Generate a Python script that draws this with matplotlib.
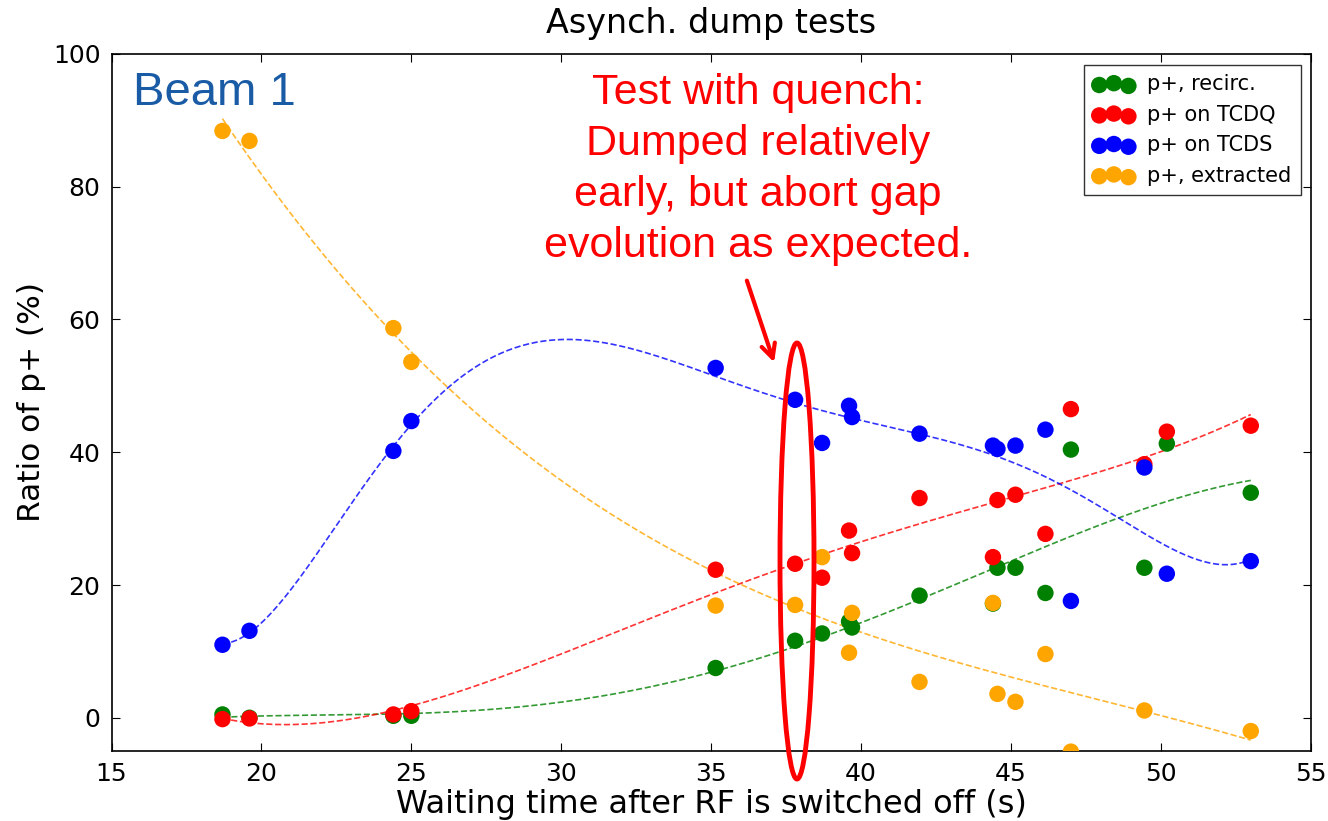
import matplotlib.pyplot as plt
import numpy as np
from matplotlib.patches import Ellipse

# waiting time after RF switch-off (s)
t = [18.7, 19.6, 24.4, 25.0, 35.15, 37.8, 38.7, 39.6, 39.7, 41.95,
     44.4, 44.55, 45.15, 46.15, 47.0, 49.45, 50.2, 53.0]

recirc = [0.5, 0.0, 0.3, 0.3, 7.5, 11.6, 12.7, 14.5, 13.6, 18.4,
          17.2, 22.6, 22.6, 18.8, 40.4, 22.6, 41.3, 33.9]
tcdq = [-0.2, -0.1, 0.5, 1.0, 22.3, 23.2, 21.1, 28.2, 24.8, 33.1,
        24.2, 32.8, 33.6, 27.7, 46.5, 38.2, 43.1, 44.0]
tcds = [11.0, 13.1, 40.2, 44.7, 52.7, 47.9, 41.4, 47.0, 45.3, 42.8,
        41.0, 40.5, 41.0, 43.4, 17.6, 37.7, 21.7, 23.6]
extracted = [88.4, 86.9, 58.7, 53.6, 16.9, 17.0, 24.2, 9.8, 15.8, 5.4,
             17.3, 3.6, 2.4, 9.6, -5.1, 1.1, None, -2.0]

# label, values, colour, polynomial degree of the trend line
series = [("p+, recirc.", recirc, "green", 4),
          ("p+ on TCDQ", tcdq, "red", 4),
          ("p+ on TCDS", tcds, "blue", 6),
          ("p+, extracted", extracted, "orange", 3)]

fig = plt.figure(figsize=(13.28, 8.21), dpi=100)
ax = fig.add_axes([0.084, 0.0853, 0.903, 0.849])

tfit = np.linspace(min(t), max(t), 300)
for label, vals, col, deg in series:
    x = np.array([a for a, b in zip(t, vals) if b is not None])
    y = np.array([b for b in vals if b is not None])
    ax.scatter(x, y, s=140, color=col, edgecolor="none", label=label, zorder=3)
    p = np.polyfit(x, y, deg)
    ax.plot(tfit, np.polyval(p, tfit), "--", color=col, lw=1.2, alpha=0.8, zorder=2)

ax.set_xlim(15, 55)
ax.set_ylim(-5, 100)
ax.set_xticks(range(15, 56, 5))
ax.set_yticks([0, 20, 40, 60, 80, 100])
ax.tick_params(direction="in", top=True, right=True, labelsize=18, length=6, pad=8)
for s in ax.spines.values():
    s.set_linewidth(1.2)

ax.set_title("Asynch. dump tests", fontsize=24, pad=15)
ax.set_xlabel("Waiting time after RF is switched off (s)", fontsize=23, labelpad=2)
ax.set_ylabel("Ratio of p+ (%)", fontsize=22.5, labelpad=5)

ax.legend(loc="upper right", scatterpoints=3, fontsize=15, frameon=True,
          fancybox=False, edgecolor="black", borderpad=0.45, handletextpad=0.6,
          labelspacing=0.5, borderaxespad=0, bbox_to_anchor=(0.9917, 0.984))

ax.text(0.018, 0.944, "Beam 1", transform=ax.transAxes, fontsize=34,
        color="#1a5ba6", family="Liberation Sans", va="center")

fig.text(758 / 1328, 1 - 73 / 821,
         "Test with quench:\nDumped relatively\nearly, but abort gap\nevolution as expected.",
         fontsize=31, color="red", family="Liberation Sans", ha="center", va="top",
         linespacing=1.36)

ax.annotate("", xy=(775, 821 - 365), xytext=(746, 821 - 278),
            xycoords="figure pixels", textcoords="figure pixels",
            arrowprops=dict(arrowstyle="->,head_length=1.0,head_width=0.5",
                            color="red", lw=3))

ring = Ellipse((797 / 1328, 1 - 561 / 821), 34 / 1328, 436 / 821,
               transform=fig.transFigure, fill=False, edgecolor="red", lw=3.5,
               clip_on=False, zorder=5)
fig.patches.append(ring)

fig.savefig("out.png", dpi=100)
